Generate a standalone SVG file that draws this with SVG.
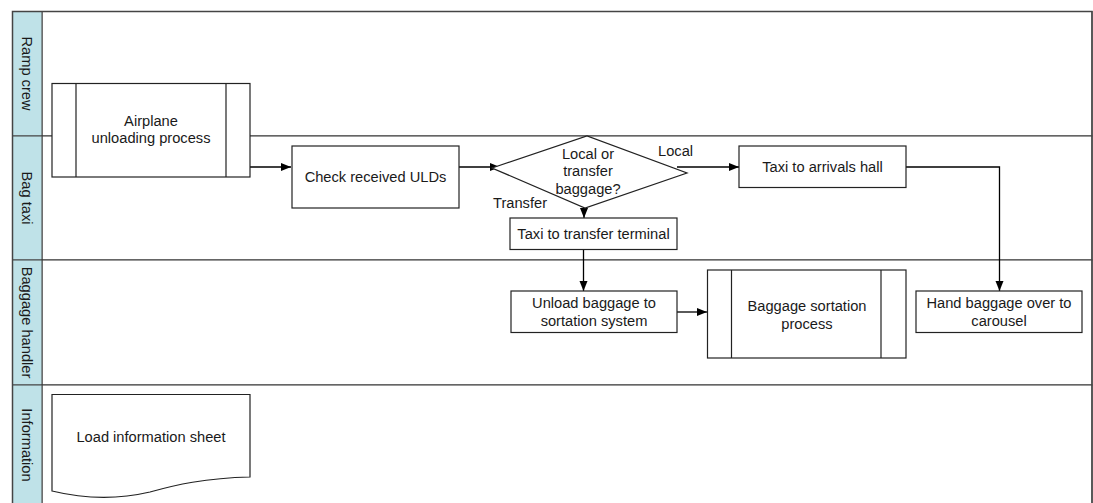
<svg xmlns="http://www.w3.org/2000/svg" width="1093" height="503" viewBox="0 0 1093 503">
  <defs>
    <marker id="arrow" viewBox="0 0 10 10" refX="10" refY="5" markerWidth="10" markerHeight="10" markerUnits="userSpaceOnUse" orient="auto">
      <path d="M0,1 L10,5 L0,9 Z" fill="#000"/>
    </marker>
  </defs>
  <style>
    text { font-family: "Liberation Sans", Arial, sans-serif; font-size: 14.67px; fill: #1a1a1a; }
    .mid { text-anchor: middle; }
    .lanehead { fill: #bfe2e8; stroke: #444; stroke-width: 1; }
    .lanebody { fill: #fff; stroke: #333; stroke-width: 1; }
    .shape { fill: #fff; stroke: #222; stroke-width: 1.2; }
    .conn { fill: none; stroke: #000; stroke-width: 1.3; }
    .arrow { marker-end: url(#arrow); }
  </style>

  <rect width="1093" height="503" fill="#fff"/>

  <!-- swimlanes -->
  <g id="lanes">
    <g id="lane-ramp-crew">
      <rect class="lanebody" x="42" y="11.5" width="1050" height="124.5"/>
      <rect class="lanehead" x="12.5" y="11.5" width="29.5" height="124.5"/>
      <text class="mid" transform="translate(22,73.5) rotate(90)">Ramp crew</text>
    </g>
    <g id="lane-bag-taxi">
      <rect class="lanebody" x="42" y="136" width="1050" height="124"/>
      <rect class="lanehead" x="12.5" y="136" width="29.5" height="124"/>
      <text class="mid" transform="translate(22,198) rotate(90)">Bag taxi</text>
    </g>
    <g id="lane-baggage-handler">
      <rect class="lanebody" x="42" y="260" width="1050" height="125"/>
      <rect class="lanehead" x="12.5" y="260" width="29.5" height="125"/>
      <text class="mid" transform="translate(22,322.5) rotate(90)">Baggage handler</text>
    </g>
    <g id="lane-information">
      <rect class="lanebody" x="42" y="385" width="1050" height="125"/>
      <rect class="lanehead" x="12.5" y="385" width="29.5" height="125"/>
      <text class="mid" transform="translate(22,445) rotate(90)">Information</text>
    </g>
    <!-- outer frame -->
    <rect x="12.5" y="11.5" width="1079.5" height="500" fill="none" stroke="#444" stroke-width="1.5"/>
  </g>

  <!-- connectors -->
  <g id="connectors">
    <path class="conn arrow" d="M250,167 H291"/>
    <path class="conn arrow" d="M459,167 H500"/>
    <path class="conn arrow" d="M677,167 H739"/>
    <path class="conn arrow" d="M584,208 V218"/>
    <path class="conn arrow" d="M583.5,249.5 V291"/>
    <path class="conn arrow" d="M677,312 H707"/>
    <path class="conn arrow" d="M906,167 H999.5 V291"/>
    <text x="658" y="156">Local</text>
    <text x="493" y="208">Transfer</text>
  </g>

  <!-- nodes -->
  <g id="node-airplane-unloading">
    <rect class="shape" x="52" y="83.5" width="198" height="93.5"/>
    <path class="shape" d="M76,83.5 V177 M226,83.5 V177"/>
    <text class="mid" x="151" y="126">Airplane</text>
    <text class="mid" x="151" y="143">unloading process</text>
  </g>

  <g id="node-check-ulds">
    <rect class="shape" x="292" y="146" width="167" height="62"/>
    <text class="mid" x="375.5" y="182">Check received ULDs</text>
  </g>

  <g id="node-decision">
    <polygon class="shape" points="492,168 587,136 687,173 585,208"/>
    <text class="mid" x="588" y="159">Local or</text>
    <text class="mid" x="588" y="176">transfer</text>
    <text class="mid" x="588" y="194">baggage?</text>
  </g>

  <g id="node-taxi-arrivals">
    <rect class="shape" x="739" y="146" width="167" height="41.5"/>
    <text class="mid" x="822.5" y="171.5">Taxi to arrivals hall</text>
  </g>

  <g id="node-taxi-transfer">
    <rect class="shape" x="510" y="218" width="167" height="31.5"/>
    <text class="mid" x="593.5" y="239">Taxi to transfer terminal</text>
  </g>

  <g id="node-unload-baggage">
    <rect class="shape" x="511" y="291" width="166" height="41.5"/>
    <text class="mid" x="594" y="308">Unload baggage to</text>
    <text class="mid" x="594" y="326">sortation system</text>
  </g>

  <g id="node-sortation-process">
    <rect class="shape" x="707.5" y="270" width="198.5" height="88"/>
    <path class="shape" d="M731.5,270 V358 M881,270 V358"/>
    <text class="mid" x="807" y="311">Baggage sortation</text>
    <text class="mid" x="807" y="329">process</text>
  </g>

  <g id="node-hand-baggage">
    <rect class="shape" x="916" y="291" width="166" height="41.5"/>
    <text class="mid" x="999" y="308">Hand baggage over to</text>
    <text class="mid" x="999" y="326">carousel</text>
  </g>

  <g id="node-load-sheet">
    <path class="shape" d="M52,394.5 H250 V477 C205,478 175,485 150,492 C120,499 85,499 52,491 Z"/>
    <text class="mid" x="151" y="442">Load information sheet</text>
  </g>
</svg>
